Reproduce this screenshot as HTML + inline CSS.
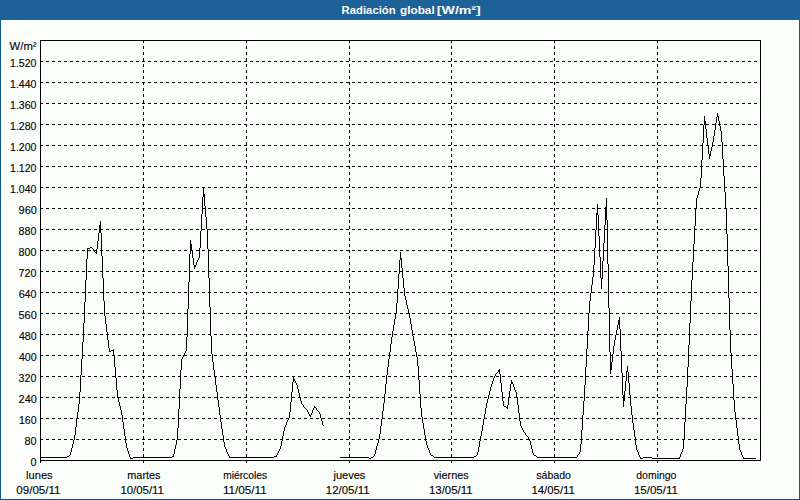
<!DOCTYPE html>
<html><head><meta charset="utf-8"><title>Radiación global</title>
<style>
html,body{margin:0;padding:0;background:#fcfefc;}
body{width:800px;height:500px;overflow:hidden;}
svg{display:block;}
text{font-family:"Liberation Sans",sans-serif;font-size:11px;fill:#000;stroke:#000;stroke-width:0.12px;}
.t{font-weight:bold;fill:#fff;stroke:none;}
</style></head><body>
<svg width="800" height="500" viewBox="0 0 800 500">
<rect x="0" y="0" width="800" height="500" fill="#fcfefc"/>
<g shape-rendering="crispEdges">
<rect x="0" y="0" width="800" height="20" fill="#1d6297"/>
<rect x="0" y="20" width="1" height="480" fill="#10568f"/>
<rect x="799" y="20" width="1" height="480" fill="#10568f"/>
<rect x="0" y="499" width="800" height="1" fill="#10568f"/>
<path d="M143 40h1v3h-1zM143 46h1v3h-1zM143 52h1v3h-1zM143 58h1v4h-1zM143 64h1v3h-1zM143 70h1v3h-1zM143 76h1v3h-1zM143 82h1v3h-1zM143 88h1v3h-1zM143 94h1v3h-1zM143 100h1v4h-1zM143 106h1v3h-1zM143 112h1v3h-1zM143 118h1v3h-1zM143 124h1v3h-1zM143 130h1v3h-1zM143 136h1v3h-1zM143 142h1v4h-1zM143 148h1v3h-1zM143 154h1v3h-1zM143 160h1v3h-1zM143 166h1v3h-1zM143 172h1v3h-1zM143 178h1v3h-1zM143 184h1v4h-1zM143 190h1v3h-1zM143 196h1v3h-1zM143 202h1v3h-1zM143 208h1v3h-1zM143 214h1v3h-1zM143 220h1v3h-1zM143 226h1v4h-1zM143 232h1v3h-1zM143 238h1v3h-1zM143 244h1v3h-1zM143 250h1v3h-1zM143 256h1v3h-1zM143 262h1v3h-1zM143 268h1v4h-1zM143 274h1v3h-1zM143 280h1v3h-1zM143 286h1v3h-1zM143 292h1v3h-1zM143 298h1v3h-1zM143 304h1v3h-1zM143 310h1v4h-1zM143 316h1v3h-1zM143 322h1v3h-1zM143 328h1v3h-1zM143 334h1v3h-1zM143 340h1v3h-1zM143 346h1v3h-1zM143 352h1v4h-1zM143 358h1v3h-1zM143 364h1v3h-1zM143 370h1v3h-1zM143 376h1v3h-1zM143 382h1v3h-1zM143 388h1v3h-1zM143 394h1v4h-1zM143 400h1v3h-1zM143 406h1v3h-1zM143 412h1v3h-1zM143 418h1v3h-1zM143 424h1v3h-1zM143 430h1v3h-1zM143 436h1v4h-1zM143 442h1v3h-1zM143 448h1v3h-1zM143 454h1v3h-1zM143 460h1v3h-1zM246 40h1v3h-1zM246 46h1v3h-1zM246 52h1v3h-1zM246 58h1v4h-1zM246 64h1v3h-1zM246 70h1v3h-1zM246 76h1v3h-1zM246 82h1v3h-1zM246 88h1v3h-1zM246 94h1v3h-1zM246 100h1v4h-1zM246 106h1v3h-1zM246 112h1v3h-1zM246 118h1v3h-1zM246 124h1v3h-1zM246 130h1v3h-1zM246 136h1v3h-1zM246 142h1v4h-1zM246 148h1v3h-1zM246 154h1v3h-1zM246 160h1v3h-1zM246 166h1v3h-1zM246 172h1v3h-1zM246 178h1v3h-1zM246 184h1v4h-1zM246 190h1v3h-1zM246 196h1v3h-1zM246 202h1v3h-1zM246 208h1v3h-1zM246 214h1v3h-1zM246 220h1v3h-1zM246 226h1v4h-1zM246 232h1v3h-1zM246 238h1v3h-1zM246 244h1v3h-1zM246 250h1v3h-1zM246 256h1v3h-1zM246 262h1v3h-1zM246 268h1v4h-1zM246 274h1v3h-1zM246 280h1v3h-1zM246 286h1v3h-1zM246 292h1v3h-1zM246 298h1v3h-1zM246 304h1v3h-1zM246 310h1v4h-1zM246 316h1v3h-1zM246 322h1v3h-1zM246 328h1v3h-1zM246 334h1v3h-1zM246 340h1v3h-1zM246 346h1v3h-1zM246 352h1v4h-1zM246 358h1v3h-1zM246 364h1v3h-1zM246 370h1v3h-1zM246 376h1v3h-1zM246 382h1v3h-1zM246 388h1v3h-1zM246 394h1v4h-1zM246 400h1v3h-1zM246 406h1v3h-1zM246 412h1v3h-1zM246 418h1v3h-1zM246 424h1v3h-1zM246 430h1v3h-1zM246 436h1v4h-1zM246 442h1v3h-1zM246 448h1v3h-1zM246 454h1v3h-1zM246 460h1v3h-1zM349 40h1v3h-1zM349 46h1v3h-1zM349 52h1v3h-1zM349 58h1v3h-1zM349 64h1v3h-1zM349 70h1v3h-1zM349 76h1v3h-1zM349 82h1v3h-1zM349 88h1v3h-1zM349 94h1v3h-1zM349 100h1v3h-1zM349 106h1v3h-1zM349 112h1v3h-1zM349 118h1v3h-1zM349 124h1v3h-1zM349 130h1v3h-1zM349 136h1v3h-1zM349 142h1v3h-1zM349 148h1v3h-1zM349 154h1v3h-1zM349 160h1v3h-1zM349 166h1v3h-1zM349 172h1v3h-1zM349 178h1v3h-1zM349 184h1v3h-1zM349 190h1v3h-1zM349 196h1v3h-1zM349 202h1v3h-1zM349 208h1v3h-1zM349 214h1v3h-1zM349 220h1v3h-1zM349 226h1v3h-1zM349 232h1v3h-1zM349 238h1v3h-1zM349 244h1v3h-1zM349 250h1v3h-1zM349 256h1v3h-1zM349 262h1v3h-1zM349 268h1v3h-1zM349 274h1v3h-1zM349 280h1v3h-1zM349 286h1v3h-1zM349 292h1v3h-1zM349 298h1v3h-1zM349 304h1v3h-1zM349 310h1v3h-1zM349 316h1v3h-1zM349 322h1v3h-1zM349 328h1v3h-1zM349 334h1v3h-1zM349 340h1v3h-1zM349 346h1v3h-1zM349 352h1v3h-1zM349 358h1v3h-1zM349 364h1v3h-1zM349 370h1v3h-1zM349 376h1v3h-1zM349 382h1v3h-1zM349 388h1v3h-1zM349 394h1v3h-1zM349 400h1v3h-1zM349 406h1v3h-1zM349 412h1v3h-1zM349 418h1v3h-1zM349 424h1v3h-1zM349 430h1v3h-1zM349 436h1v3h-1zM349 442h1v3h-1zM349 448h1v3h-1zM349 454h1v3h-1zM349 460h1v3h-1zM451 40h1v3h-1zM451 46h1v3h-1zM451 52h1v3h-1zM451 58h1v3h-1zM451 64h1v3h-1zM451 70h1v3h-1zM451 76h1v3h-1zM451 82h1v3h-1zM451 88h1v3h-1zM451 94h1v3h-1zM451 100h1v3h-1zM451 106h1v3h-1zM451 112h1v3h-1zM451 118h1v3h-1zM451 124h1v3h-1zM451 130h1v3h-1zM451 136h1v3h-1zM451 142h1v3h-1zM451 148h1v3h-1zM451 154h1v3h-1zM451 160h1v3h-1zM451 166h1v3h-1zM451 172h1v3h-1zM451 178h1v3h-1zM451 184h1v3h-1zM451 190h1v3h-1zM451 196h1v3h-1zM451 202h1v3h-1zM451 208h1v3h-1zM451 214h1v3h-1zM451 220h1v3h-1zM451 226h1v3h-1zM451 232h1v3h-1zM451 238h1v3h-1zM451 244h1v3h-1zM451 250h1v3h-1zM451 256h1v3h-1zM451 262h1v3h-1zM451 268h1v3h-1zM451 274h1v3h-1zM451 280h1v3h-1zM451 286h1v3h-1zM451 292h1v3h-1zM451 298h1v3h-1zM451 304h1v3h-1zM451 310h1v3h-1zM451 316h1v3h-1zM451 322h1v3h-1zM451 328h1v3h-1zM451 334h1v3h-1zM451 340h1v3h-1zM451 346h1v3h-1zM451 352h1v3h-1zM451 358h1v3h-1zM451 364h1v3h-1zM451 370h1v3h-1zM451 376h1v3h-1zM451 382h1v3h-1zM451 388h1v3h-1zM451 394h1v3h-1zM451 400h1v3h-1zM451 406h1v3h-1zM451 412h1v3h-1zM451 418h1v3h-1zM451 424h1v3h-1zM451 430h1v3h-1zM451 436h1v3h-1zM451 442h1v3h-1zM451 448h1v3h-1zM451 454h1v3h-1zM451 460h1v3h-1zM554 40h1v3h-1zM554 46h1v3h-1zM554 52h1v3h-1zM554 58h1v3h-1zM554 64h1v3h-1zM554 70h1v3h-1zM554 76h1v3h-1zM554 82h1v3h-1zM554 88h1v3h-1zM554 94h1v3h-1zM554 100h1v3h-1zM554 106h1v3h-1zM554 112h1v3h-1zM554 118h1v3h-1zM554 124h1v3h-1zM554 130h1v3h-1zM554 136h1v3h-1zM554 142h1v3h-1zM554 148h1v3h-1zM554 154h1v3h-1zM554 160h1v3h-1zM554 166h1v3h-1zM554 172h1v3h-1zM554 178h1v3h-1zM554 184h1v3h-1zM554 190h1v3h-1zM554 196h1v3h-1zM554 202h1v3h-1zM554 208h1v3h-1zM554 214h1v3h-1zM554 220h1v3h-1zM554 226h1v3h-1zM554 232h1v3h-1zM554 238h1v3h-1zM554 244h1v3h-1zM554 250h1v3h-1zM554 256h1v3h-1zM554 262h1v3h-1zM554 268h1v3h-1zM554 274h1v3h-1zM554 280h1v3h-1zM554 286h1v3h-1zM554 292h1v3h-1zM554 298h1v3h-1zM554 304h1v3h-1zM554 310h1v3h-1zM554 316h1v3h-1zM554 322h1v3h-1zM554 328h1v3h-1zM554 334h1v3h-1zM554 340h1v3h-1zM554 346h1v3h-1zM554 352h1v3h-1zM554 358h1v3h-1zM554 364h1v3h-1zM554 370h1v3h-1zM554 376h1v3h-1zM554 382h1v3h-1zM554 388h1v3h-1zM554 394h1v3h-1zM554 400h1v3h-1zM554 406h1v3h-1zM554 412h1v3h-1zM554 418h1v3h-1zM554 424h1v3h-1zM554 430h1v3h-1zM554 436h1v3h-1zM554 442h1v3h-1zM554 448h1v3h-1zM554 454h1v3h-1zM554 460h1v3h-1zM657 40h1v3h-1zM657 46h1v3h-1zM657 52h1v3h-1zM657 58h1v3h-1zM657 64h1v3h-1zM657 70h1v3h-1zM657 76h1v3h-1zM657 82h1v3h-1zM657 88h1v3h-1zM657 94h1v3h-1zM657 100h1v3h-1zM657 106h1v3h-1zM657 112h1v3h-1zM657 118h1v3h-1zM657 124h1v3h-1zM657 130h1v3h-1zM657 136h1v3h-1zM657 142h1v3h-1zM657 148h1v3h-1zM657 154h1v3h-1zM657 160h1v3h-1zM657 166h1v3h-1zM657 172h1v3h-1zM657 178h1v3h-1zM657 184h1v3h-1zM657 190h1v3h-1zM657 196h1v3h-1zM657 202h1v3h-1zM657 208h1v3h-1zM657 214h1v3h-1zM657 220h1v3h-1zM657 226h1v3h-1zM657 232h1v3h-1zM657 238h1v3h-1zM657 244h1v3h-1zM657 250h1v3h-1zM657 256h1v3h-1zM657 262h1v3h-1zM657 268h1v3h-1zM657 274h1v3h-1zM657 280h1v3h-1zM657 286h1v3h-1zM657 292h1v3h-1zM657 298h1v3h-1zM657 304h1v3h-1zM657 310h1v3h-1zM657 316h1v3h-1zM657 322h1v3h-1zM657 328h1v3h-1zM657 334h1v3h-1zM657 340h1v3h-1zM657 346h1v3h-1zM657 352h1v3h-1zM657 358h1v3h-1zM657 364h1v3h-1zM657 370h1v3h-1zM657 376h1v3h-1zM657 382h1v3h-1zM657 388h1v3h-1zM657 394h1v3h-1zM657 400h1v3h-1zM657 406h1v3h-1zM657 412h1v3h-1zM657 418h1v3h-1zM657 424h1v3h-1zM657 430h1v3h-1zM657 436h1v3h-1zM657 442h1v3h-1zM657 448h1v3h-1zM657 454h1v3h-1zM657 460h1v3h-1zM40 61h3v1h-3zM46 61h3v1h-3zM52 61h3v1h-3zM58 61h3v1h-3zM64 61h3v1h-3zM70 61h3v1h-3zM76 61h3v1h-3zM82 61h3v1h-3zM88 61h3v1h-3zM94 61h3v1h-3zM100 61h3v1h-3zM106 61h3v1h-3zM112 61h3v1h-3zM118 61h3v1h-3zM124 61h3v1h-3zM130 61h3v1h-3zM136 61h3v1h-3zM142 61h1v1h-1zM144 61h1v1h-1zM148 61h3v1h-3zM154 61h3v1h-3zM160 61h3v1h-3zM166 61h3v1h-3zM172 61h3v1h-3zM178 61h3v1h-3zM184 61h3v1h-3zM190 61h3v1h-3zM196 61h3v1h-3zM202 61h3v1h-3zM208 61h3v1h-3zM214 61h3v1h-3zM220 61h3v1h-3zM226 61h3v1h-3zM232 61h3v1h-3zM238 61h3v1h-3zM244 61h2v1h-2zM250 61h3v1h-3zM256 61h3v1h-3zM262 61h3v1h-3zM268 61h3v1h-3zM274 61h3v1h-3zM280 61h3v1h-3zM286 61h3v1h-3zM292 61h3v1h-3zM298 61h3v1h-3zM304 61h3v1h-3zM310 61h3v1h-3zM316 61h3v1h-3zM322 61h3v1h-3zM328 61h3v1h-3zM334 61h3v1h-3zM340 61h3v1h-3zM346 61h3v1h-3zM352 61h3v1h-3zM358 61h3v1h-3zM364 61h3v1h-3zM370 61h3v1h-3zM376 61h3v1h-3zM382 61h3v1h-3zM388 61h3v1h-3zM394 61h3v1h-3zM400 61h3v1h-3zM406 61h3v1h-3zM412 61h3v1h-3zM418 61h3v1h-3zM424 61h3v1h-3zM430 61h3v1h-3zM436 61h3v1h-3zM442 61h3v1h-3zM448 61h3v1h-3zM454 61h3v1h-3zM460 61h3v1h-3zM466 61h3v1h-3zM472 61h3v1h-3zM478 61h3v1h-3zM484 61h3v1h-3zM490 61h3v1h-3zM496 61h3v1h-3zM502 61h3v1h-3zM508 61h3v1h-3zM514 61h3v1h-3zM520 61h3v1h-3zM526 61h3v1h-3zM532 61h3v1h-3zM538 61h3v1h-3zM544 61h3v1h-3zM550 61h3v1h-3zM556 61h3v1h-3zM562 61h3v1h-3zM568 61h3v1h-3zM574 61h3v1h-3zM580 61h3v1h-3zM586 61h3v1h-3zM592 61h3v1h-3zM598 61h3v1h-3zM604 61h3v1h-3zM610 61h3v1h-3zM616 61h3v1h-3zM622 61h3v1h-3zM628 61h3v1h-3zM634 61h3v1h-3zM640 61h3v1h-3zM646 61h3v1h-3zM652 61h3v1h-3zM658 61h3v1h-3zM664 61h3v1h-3zM670 61h3v1h-3zM676 61h3v1h-3zM682 61h3v1h-3zM688 61h3v1h-3zM694 61h3v1h-3zM700 61h3v1h-3zM706 61h3v1h-3zM712 61h3v1h-3zM718 61h3v1h-3zM724 61h3v1h-3zM730 61h3v1h-3zM736 61h3v1h-3zM742 61h3v1h-3zM748 61h3v1h-3zM754 61h3v1h-3zM760 61h1v1h-1zM40 82h3v1h-3zM46 82h3v1h-3zM52 82h3v1h-3zM58 82h3v1h-3zM64 82h3v1h-3zM70 82h3v1h-3zM76 82h3v1h-3zM82 82h3v1h-3zM88 82h3v1h-3zM94 82h3v1h-3zM100 82h3v1h-3zM106 82h3v1h-3zM112 82h3v1h-3zM118 82h3v1h-3zM124 82h3v1h-3zM130 82h3v1h-3zM136 82h3v1h-3zM142 82h1v1h-1zM144 82h1v1h-1zM148 82h3v1h-3zM154 82h3v1h-3zM160 82h3v1h-3zM166 82h3v1h-3zM172 82h3v1h-3zM178 82h3v1h-3zM184 82h3v1h-3zM190 82h3v1h-3zM196 82h3v1h-3zM202 82h3v1h-3zM208 82h3v1h-3zM214 82h3v1h-3zM220 82h3v1h-3zM226 82h3v1h-3zM232 82h3v1h-3zM238 82h3v1h-3zM244 82h2v1h-2zM250 82h3v1h-3zM256 82h3v1h-3zM262 82h3v1h-3zM268 82h3v1h-3zM274 82h3v1h-3zM280 82h3v1h-3zM286 82h3v1h-3zM292 82h3v1h-3zM298 82h3v1h-3zM304 82h3v1h-3zM310 82h3v1h-3zM316 82h3v1h-3zM322 82h3v1h-3zM328 82h3v1h-3zM334 82h3v1h-3zM340 82h3v1h-3zM346 82h3v1h-3zM352 82h3v1h-3zM358 82h3v1h-3zM364 82h3v1h-3zM370 82h3v1h-3zM376 82h3v1h-3zM382 82h3v1h-3zM388 82h3v1h-3zM394 82h3v1h-3zM400 82h3v1h-3zM406 82h3v1h-3zM412 82h3v1h-3zM418 82h3v1h-3zM424 82h3v1h-3zM430 82h3v1h-3zM436 82h3v1h-3zM442 82h3v1h-3zM448 82h3v1h-3zM454 82h3v1h-3zM460 82h3v1h-3zM466 82h3v1h-3zM472 82h3v1h-3zM478 82h3v1h-3zM484 82h3v1h-3zM490 82h3v1h-3zM496 82h3v1h-3zM502 82h3v1h-3zM508 82h3v1h-3zM514 82h3v1h-3zM520 82h3v1h-3zM526 82h3v1h-3zM532 82h3v1h-3zM538 82h3v1h-3zM544 82h3v1h-3zM550 82h3v1h-3zM556 82h3v1h-3zM562 82h3v1h-3zM568 82h3v1h-3zM574 82h3v1h-3zM580 82h3v1h-3zM586 82h3v1h-3zM592 82h3v1h-3zM598 82h3v1h-3zM604 82h3v1h-3zM610 82h3v1h-3zM616 82h3v1h-3zM622 82h3v1h-3zM628 82h3v1h-3zM634 82h3v1h-3zM640 82h3v1h-3zM646 82h3v1h-3zM652 82h3v1h-3zM658 82h3v1h-3zM664 82h3v1h-3zM670 82h3v1h-3zM676 82h3v1h-3zM682 82h3v1h-3zM688 82h3v1h-3zM694 82h3v1h-3zM700 82h3v1h-3zM706 82h3v1h-3zM712 82h3v1h-3zM718 82h3v1h-3zM724 82h3v1h-3zM730 82h3v1h-3zM736 82h3v1h-3zM742 82h3v1h-3zM748 82h3v1h-3zM754 82h3v1h-3zM760 82h1v1h-1zM40 103h3v1h-3zM46 103h3v1h-3zM52 103h3v1h-3zM58 103h3v1h-3zM64 103h3v1h-3zM70 103h3v1h-3zM76 103h3v1h-3zM82 103h3v1h-3zM88 103h3v1h-3zM94 103h3v1h-3zM100 103h3v1h-3zM106 103h3v1h-3zM112 103h3v1h-3zM118 103h3v1h-3zM124 103h3v1h-3zM130 103h3v1h-3zM136 103h3v1h-3zM142 103h1v1h-1zM144 103h1v1h-1zM148 103h3v1h-3zM154 103h3v1h-3zM160 103h3v1h-3zM166 103h3v1h-3zM172 103h3v1h-3zM178 103h3v1h-3zM184 103h3v1h-3zM190 103h3v1h-3zM196 103h3v1h-3zM202 103h3v1h-3zM208 103h3v1h-3zM214 103h3v1h-3zM220 103h3v1h-3zM226 103h3v1h-3zM232 103h3v1h-3zM238 103h3v1h-3zM244 103h2v1h-2zM250 103h3v1h-3zM256 103h3v1h-3zM262 103h3v1h-3zM268 103h3v1h-3zM274 103h3v1h-3zM280 103h3v1h-3zM286 103h3v1h-3zM292 103h3v1h-3zM298 103h3v1h-3zM304 103h3v1h-3zM310 103h3v1h-3zM316 103h3v1h-3zM322 103h3v1h-3zM328 103h3v1h-3zM334 103h3v1h-3zM340 103h3v1h-3zM346 103h3v1h-3zM352 103h3v1h-3zM358 103h3v1h-3zM364 103h3v1h-3zM370 103h3v1h-3zM376 103h3v1h-3zM382 103h3v1h-3zM388 103h3v1h-3zM394 103h3v1h-3zM400 103h3v1h-3zM406 103h3v1h-3zM412 103h3v1h-3zM418 103h3v1h-3zM424 103h3v1h-3zM430 103h3v1h-3zM436 103h3v1h-3zM442 103h3v1h-3zM448 103h3v1h-3zM454 103h3v1h-3zM460 103h3v1h-3zM466 103h3v1h-3zM472 103h3v1h-3zM478 103h3v1h-3zM484 103h3v1h-3zM490 103h3v1h-3zM496 103h3v1h-3zM502 103h3v1h-3zM508 103h3v1h-3zM514 103h3v1h-3zM520 103h3v1h-3zM526 103h3v1h-3zM532 103h3v1h-3zM538 103h3v1h-3zM544 103h3v1h-3zM550 103h3v1h-3zM556 103h3v1h-3zM562 103h3v1h-3zM568 103h3v1h-3zM574 103h3v1h-3zM580 103h3v1h-3zM586 103h3v1h-3zM592 103h3v1h-3zM598 103h3v1h-3zM604 103h3v1h-3zM610 103h3v1h-3zM616 103h3v1h-3zM622 103h3v1h-3zM628 103h3v1h-3zM634 103h3v1h-3zM640 103h3v1h-3zM646 103h3v1h-3zM652 103h3v1h-3zM658 103h3v1h-3zM664 103h3v1h-3zM670 103h3v1h-3zM676 103h3v1h-3zM682 103h3v1h-3zM688 103h3v1h-3zM694 103h3v1h-3zM700 103h3v1h-3zM706 103h3v1h-3zM712 103h3v1h-3zM718 103h3v1h-3zM724 103h3v1h-3zM730 103h3v1h-3zM736 103h3v1h-3zM742 103h3v1h-3zM748 103h3v1h-3zM754 103h3v1h-3zM760 103h1v1h-1zM40 124h3v1h-3zM46 124h3v1h-3zM52 124h3v1h-3zM58 124h3v1h-3zM64 124h3v1h-3zM70 124h3v1h-3zM76 124h3v1h-3zM82 124h3v1h-3zM88 124h3v1h-3zM94 124h3v1h-3zM100 124h3v1h-3zM106 124h3v1h-3zM112 124h3v1h-3zM118 124h3v1h-3zM124 124h3v1h-3zM130 124h3v1h-3zM136 124h3v1h-3zM142 124h1v1h-1zM144 124h1v1h-1zM148 124h3v1h-3zM154 124h3v1h-3zM160 124h3v1h-3zM166 124h3v1h-3zM172 124h3v1h-3zM178 124h3v1h-3zM184 124h3v1h-3zM190 124h3v1h-3zM196 124h3v1h-3zM202 124h3v1h-3zM208 124h3v1h-3zM214 124h3v1h-3zM220 124h3v1h-3zM226 124h3v1h-3zM232 124h3v1h-3zM238 124h3v1h-3zM244 124h2v1h-2zM250 124h3v1h-3zM256 124h3v1h-3zM262 124h3v1h-3zM268 124h3v1h-3zM274 124h3v1h-3zM280 124h3v1h-3zM286 124h3v1h-3zM292 124h3v1h-3zM298 124h3v1h-3zM304 124h3v1h-3zM310 124h3v1h-3zM316 124h3v1h-3zM322 124h3v1h-3zM328 124h3v1h-3zM334 124h3v1h-3zM340 124h3v1h-3zM346 124h3v1h-3zM352 124h3v1h-3zM358 124h3v1h-3zM364 124h3v1h-3zM370 124h3v1h-3zM376 124h3v1h-3zM382 124h3v1h-3zM388 124h3v1h-3zM394 124h3v1h-3zM400 124h3v1h-3zM406 124h3v1h-3zM412 124h3v1h-3zM418 124h3v1h-3zM424 124h3v1h-3zM430 124h3v1h-3zM436 124h3v1h-3zM442 124h3v1h-3zM448 124h3v1h-3zM454 124h3v1h-3zM460 124h3v1h-3zM466 124h3v1h-3zM472 124h3v1h-3zM478 124h3v1h-3zM484 124h3v1h-3zM490 124h3v1h-3zM496 124h3v1h-3zM502 124h3v1h-3zM508 124h3v1h-3zM514 124h3v1h-3zM520 124h3v1h-3zM526 124h3v1h-3zM532 124h3v1h-3zM538 124h3v1h-3zM544 124h3v1h-3zM550 124h3v1h-3zM556 124h3v1h-3zM562 124h3v1h-3zM568 124h3v1h-3zM574 124h3v1h-3zM580 124h3v1h-3zM586 124h3v1h-3zM592 124h3v1h-3zM598 124h3v1h-3zM604 124h3v1h-3zM610 124h3v1h-3zM616 124h3v1h-3zM622 124h3v1h-3zM628 124h3v1h-3zM634 124h3v1h-3zM640 124h3v1h-3zM646 124h3v1h-3zM652 124h3v1h-3zM658 124h3v1h-3zM664 124h3v1h-3zM670 124h3v1h-3zM676 124h3v1h-3zM682 124h3v1h-3zM688 124h3v1h-3zM694 124h3v1h-3zM700 124h3v1h-3zM706 124h3v1h-3zM712 124h3v1h-3zM718 124h3v1h-3zM724 124h3v1h-3zM730 124h3v1h-3zM736 124h3v1h-3zM742 124h3v1h-3zM748 124h3v1h-3zM754 124h3v1h-3zM760 124h1v1h-1zM40 145h3v1h-3zM46 145h3v1h-3zM52 145h3v1h-3zM58 145h3v1h-3zM64 145h3v1h-3zM70 145h3v1h-3zM76 145h3v1h-3zM82 145h3v1h-3zM88 145h3v1h-3zM94 145h3v1h-3zM100 145h3v1h-3zM106 145h3v1h-3zM112 145h3v1h-3zM118 145h3v1h-3zM124 145h3v1h-3zM130 145h3v1h-3zM136 145h3v1h-3zM142 145h1v1h-1zM144 145h1v1h-1zM148 145h3v1h-3zM154 145h3v1h-3zM160 145h3v1h-3zM166 145h3v1h-3zM172 145h3v1h-3zM178 145h3v1h-3zM184 145h3v1h-3zM190 145h3v1h-3zM196 145h3v1h-3zM202 145h3v1h-3zM208 145h3v1h-3zM214 145h3v1h-3zM220 145h3v1h-3zM226 145h3v1h-3zM232 145h3v1h-3zM238 145h3v1h-3zM244 145h2v1h-2zM250 145h3v1h-3zM256 145h3v1h-3zM262 145h3v1h-3zM268 145h3v1h-3zM274 145h3v1h-3zM280 145h3v1h-3zM286 145h3v1h-3zM292 145h3v1h-3zM298 145h3v1h-3zM304 145h3v1h-3zM310 145h3v1h-3zM316 145h3v1h-3zM322 145h3v1h-3zM328 145h3v1h-3zM334 145h3v1h-3zM340 145h3v1h-3zM346 145h3v1h-3zM352 145h3v1h-3zM358 145h3v1h-3zM364 145h3v1h-3zM370 145h3v1h-3zM376 145h3v1h-3zM382 145h3v1h-3zM388 145h3v1h-3zM394 145h3v1h-3zM400 145h3v1h-3zM406 145h3v1h-3zM412 145h3v1h-3zM418 145h3v1h-3zM424 145h3v1h-3zM430 145h3v1h-3zM436 145h3v1h-3zM442 145h3v1h-3zM448 145h3v1h-3zM454 145h3v1h-3zM460 145h3v1h-3zM466 145h3v1h-3zM472 145h3v1h-3zM478 145h3v1h-3zM484 145h3v1h-3zM490 145h3v1h-3zM496 145h3v1h-3zM502 145h3v1h-3zM508 145h3v1h-3zM514 145h3v1h-3zM520 145h3v1h-3zM526 145h3v1h-3zM532 145h3v1h-3zM538 145h3v1h-3zM544 145h3v1h-3zM550 145h3v1h-3zM556 145h3v1h-3zM562 145h3v1h-3zM568 145h3v1h-3zM574 145h3v1h-3zM580 145h3v1h-3zM586 145h3v1h-3zM592 145h3v1h-3zM598 145h3v1h-3zM604 145h3v1h-3zM610 145h3v1h-3zM616 145h3v1h-3zM622 145h3v1h-3zM628 145h3v1h-3zM634 145h3v1h-3zM640 145h3v1h-3zM646 145h3v1h-3zM652 145h3v1h-3zM658 145h3v1h-3zM664 145h3v1h-3zM670 145h3v1h-3zM676 145h3v1h-3zM682 145h3v1h-3zM688 145h3v1h-3zM694 145h3v1h-3zM700 145h3v1h-3zM706 145h3v1h-3zM712 145h3v1h-3zM718 145h3v1h-3zM724 145h3v1h-3zM730 145h3v1h-3zM736 145h3v1h-3zM742 145h3v1h-3zM748 145h3v1h-3zM754 145h3v1h-3zM760 145h1v1h-1zM40 166h3v1h-3zM46 166h3v1h-3zM52 166h3v1h-3zM58 166h3v1h-3zM64 166h3v1h-3zM70 166h3v1h-3zM76 166h3v1h-3zM82 166h3v1h-3zM88 166h3v1h-3zM94 166h3v1h-3zM100 166h3v1h-3zM106 166h3v1h-3zM112 166h3v1h-3zM118 166h3v1h-3zM124 166h3v1h-3zM130 166h3v1h-3zM136 166h3v1h-3zM142 166h1v1h-1zM144 166h1v1h-1zM148 166h3v1h-3zM154 166h3v1h-3zM160 166h3v1h-3zM166 166h3v1h-3zM172 166h3v1h-3zM178 166h3v1h-3zM184 166h3v1h-3zM190 166h3v1h-3zM196 166h3v1h-3zM202 166h3v1h-3zM208 166h3v1h-3zM214 166h3v1h-3zM220 166h3v1h-3zM226 166h3v1h-3zM232 166h3v1h-3zM238 166h3v1h-3zM244 166h2v1h-2zM250 166h3v1h-3zM256 166h3v1h-3zM262 166h3v1h-3zM268 166h3v1h-3zM274 166h3v1h-3zM280 166h3v1h-3zM286 166h3v1h-3zM292 166h3v1h-3zM298 166h3v1h-3zM304 166h3v1h-3zM310 166h3v1h-3zM316 166h3v1h-3zM322 166h3v1h-3zM328 166h3v1h-3zM334 166h3v1h-3zM340 166h3v1h-3zM346 166h3v1h-3zM352 166h3v1h-3zM358 166h3v1h-3zM364 166h3v1h-3zM370 166h3v1h-3zM376 166h3v1h-3zM382 166h3v1h-3zM388 166h3v1h-3zM394 166h3v1h-3zM400 166h3v1h-3zM406 166h3v1h-3zM412 166h3v1h-3zM418 166h3v1h-3zM424 166h3v1h-3zM430 166h3v1h-3zM436 166h3v1h-3zM442 166h3v1h-3zM448 166h3v1h-3zM454 166h3v1h-3zM460 166h3v1h-3zM466 166h3v1h-3zM472 166h3v1h-3zM478 166h3v1h-3zM484 166h3v1h-3zM490 166h3v1h-3zM496 166h3v1h-3zM502 166h3v1h-3zM508 166h3v1h-3zM514 166h3v1h-3zM520 166h3v1h-3zM526 166h3v1h-3zM532 166h3v1h-3zM538 166h3v1h-3zM544 166h3v1h-3zM550 166h3v1h-3zM556 166h3v1h-3zM562 166h3v1h-3zM568 166h3v1h-3zM574 166h3v1h-3zM580 166h3v1h-3zM586 166h3v1h-3zM592 166h3v1h-3zM598 166h3v1h-3zM604 166h3v1h-3zM610 166h3v1h-3zM616 166h3v1h-3zM622 166h3v1h-3zM628 166h3v1h-3zM634 166h3v1h-3zM640 166h3v1h-3zM646 166h3v1h-3zM652 166h3v1h-3zM658 166h3v1h-3zM664 166h3v1h-3zM670 166h3v1h-3zM676 166h3v1h-3zM682 166h3v1h-3zM688 166h3v1h-3zM694 166h3v1h-3zM700 166h3v1h-3zM706 166h3v1h-3zM712 166h3v1h-3zM718 166h3v1h-3zM724 166h3v1h-3zM730 166h3v1h-3zM736 166h3v1h-3zM742 166h3v1h-3zM748 166h3v1h-3zM754 166h3v1h-3zM760 166h1v1h-1zM40 187h3v1h-3zM46 187h3v1h-3zM52 187h3v1h-3zM58 187h3v1h-3zM64 187h3v1h-3zM70 187h3v1h-3zM76 187h3v1h-3zM82 187h3v1h-3zM88 187h3v1h-3zM94 187h3v1h-3zM100 187h3v1h-3zM106 187h3v1h-3zM112 187h3v1h-3zM118 187h3v1h-3zM124 187h3v1h-3zM130 187h3v1h-3zM136 187h3v1h-3zM142 187h1v1h-1zM144 187h1v1h-1zM148 187h3v1h-3zM154 187h3v1h-3zM160 187h3v1h-3zM166 187h3v1h-3zM172 187h3v1h-3zM178 187h3v1h-3zM184 187h3v1h-3zM190 187h3v1h-3zM196 187h3v1h-3zM202 187h3v1h-3zM208 187h3v1h-3zM214 187h3v1h-3zM220 187h3v1h-3zM226 187h3v1h-3zM232 187h3v1h-3zM238 187h3v1h-3zM244 187h2v1h-2zM250 187h3v1h-3zM256 187h3v1h-3zM262 187h3v1h-3zM268 187h3v1h-3zM274 187h3v1h-3zM280 187h3v1h-3zM286 187h3v1h-3zM292 187h3v1h-3zM298 187h3v1h-3zM304 187h3v1h-3zM310 187h3v1h-3zM316 187h3v1h-3zM322 187h3v1h-3zM328 187h3v1h-3zM334 187h3v1h-3zM340 187h3v1h-3zM346 187h3v1h-3zM352 187h3v1h-3zM358 187h3v1h-3zM364 187h3v1h-3zM370 187h3v1h-3zM376 187h3v1h-3zM382 187h3v1h-3zM388 187h3v1h-3zM394 187h3v1h-3zM400 187h3v1h-3zM406 187h3v1h-3zM412 187h3v1h-3zM418 187h3v1h-3zM424 187h3v1h-3zM430 187h3v1h-3zM436 187h3v1h-3zM442 187h3v1h-3zM448 187h3v1h-3zM454 187h3v1h-3zM460 187h3v1h-3zM466 187h3v1h-3zM472 187h3v1h-3zM478 187h3v1h-3zM484 187h3v1h-3zM490 187h3v1h-3zM496 187h3v1h-3zM502 187h3v1h-3zM508 187h3v1h-3zM514 187h3v1h-3zM520 187h3v1h-3zM526 187h3v1h-3zM532 187h3v1h-3zM538 187h3v1h-3zM544 187h3v1h-3zM550 187h3v1h-3zM556 187h3v1h-3zM562 187h3v1h-3zM568 187h3v1h-3zM574 187h3v1h-3zM580 187h3v1h-3zM586 187h3v1h-3zM592 187h3v1h-3zM598 187h3v1h-3zM604 187h3v1h-3zM610 187h3v1h-3zM616 187h3v1h-3zM622 187h3v1h-3zM628 187h3v1h-3zM634 187h3v1h-3zM640 187h3v1h-3zM646 187h3v1h-3zM652 187h3v1h-3zM658 187h3v1h-3zM664 187h3v1h-3zM670 187h3v1h-3zM676 187h3v1h-3zM682 187h3v1h-3zM688 187h3v1h-3zM694 187h3v1h-3zM700 187h3v1h-3zM706 187h3v1h-3zM712 187h3v1h-3zM718 187h3v1h-3zM724 187h3v1h-3zM730 187h3v1h-3zM736 187h3v1h-3zM742 187h3v1h-3zM748 187h3v1h-3zM754 187h3v1h-3zM760 187h1v1h-1zM40 208h3v1h-3zM46 208h3v1h-3zM52 208h3v1h-3zM58 208h3v1h-3zM64 208h3v1h-3zM70 208h3v1h-3zM76 208h3v1h-3zM82 208h3v1h-3zM88 208h3v1h-3zM94 208h3v1h-3zM100 208h3v1h-3zM106 208h3v1h-3zM112 208h3v1h-3zM118 208h3v1h-3zM124 208h3v1h-3zM130 208h3v1h-3zM136 208h3v1h-3zM142 208h1v1h-1zM144 208h1v1h-1zM148 208h3v1h-3zM154 208h3v1h-3zM160 208h3v1h-3zM166 208h3v1h-3zM172 208h3v1h-3zM178 208h3v1h-3zM184 208h3v1h-3zM190 208h3v1h-3zM196 208h3v1h-3zM202 208h3v1h-3zM208 208h3v1h-3zM214 208h3v1h-3zM220 208h3v1h-3zM226 208h3v1h-3zM232 208h3v1h-3zM238 208h3v1h-3zM244 208h2v1h-2zM250 208h3v1h-3zM256 208h3v1h-3zM262 208h3v1h-3zM268 208h3v1h-3zM274 208h3v1h-3zM280 208h3v1h-3zM286 208h3v1h-3zM292 208h3v1h-3zM298 208h3v1h-3zM304 208h3v1h-3zM310 208h3v1h-3zM316 208h3v1h-3zM322 208h3v1h-3zM328 208h3v1h-3zM334 208h3v1h-3zM340 208h3v1h-3zM346 208h3v1h-3zM352 208h3v1h-3zM358 208h3v1h-3zM364 208h3v1h-3zM370 208h3v1h-3zM376 208h3v1h-3zM382 208h3v1h-3zM388 208h3v1h-3zM394 208h3v1h-3zM400 208h3v1h-3zM406 208h3v1h-3zM412 208h3v1h-3zM418 208h3v1h-3zM424 208h3v1h-3zM430 208h3v1h-3zM436 208h3v1h-3zM442 208h3v1h-3zM448 208h3v1h-3zM454 208h3v1h-3zM460 208h3v1h-3zM466 208h3v1h-3zM472 208h3v1h-3zM478 208h3v1h-3zM484 208h3v1h-3zM490 208h3v1h-3zM496 208h3v1h-3zM502 208h3v1h-3zM508 208h3v1h-3zM514 208h3v1h-3zM520 208h3v1h-3zM526 208h3v1h-3zM532 208h3v1h-3zM538 208h3v1h-3zM544 208h3v1h-3zM550 208h3v1h-3zM556 208h3v1h-3zM562 208h3v1h-3zM568 208h3v1h-3zM574 208h3v1h-3zM580 208h3v1h-3zM586 208h3v1h-3zM592 208h3v1h-3zM598 208h3v1h-3zM604 208h3v1h-3zM610 208h3v1h-3zM616 208h3v1h-3zM622 208h3v1h-3zM628 208h3v1h-3zM634 208h3v1h-3zM640 208h3v1h-3zM646 208h3v1h-3zM652 208h3v1h-3zM658 208h3v1h-3zM664 208h3v1h-3zM670 208h3v1h-3zM676 208h3v1h-3zM682 208h3v1h-3zM688 208h3v1h-3zM694 208h3v1h-3zM700 208h3v1h-3zM706 208h3v1h-3zM712 208h3v1h-3zM718 208h3v1h-3zM724 208h3v1h-3zM730 208h3v1h-3zM736 208h3v1h-3zM742 208h3v1h-3zM748 208h3v1h-3zM754 208h3v1h-3zM760 208h1v1h-1zM40 229h3v1h-3zM46 229h3v1h-3zM52 229h3v1h-3zM58 229h3v1h-3zM64 229h3v1h-3zM70 229h3v1h-3zM76 229h3v1h-3zM82 229h3v1h-3zM88 229h3v1h-3zM94 229h3v1h-3zM100 229h3v1h-3zM106 229h3v1h-3zM112 229h3v1h-3zM118 229h3v1h-3zM124 229h3v1h-3zM130 229h3v1h-3zM136 229h3v1h-3zM142 229h1v1h-1zM144 229h1v1h-1zM148 229h3v1h-3zM154 229h3v1h-3zM160 229h3v1h-3zM166 229h3v1h-3zM172 229h3v1h-3zM178 229h3v1h-3zM184 229h3v1h-3zM190 229h3v1h-3zM196 229h3v1h-3zM202 229h3v1h-3zM208 229h3v1h-3zM214 229h3v1h-3zM220 229h3v1h-3zM226 229h3v1h-3zM232 229h3v1h-3zM238 229h3v1h-3zM244 229h2v1h-2zM250 229h3v1h-3zM256 229h3v1h-3zM262 229h3v1h-3zM268 229h3v1h-3zM274 229h3v1h-3zM280 229h3v1h-3zM286 229h3v1h-3zM292 229h3v1h-3zM298 229h3v1h-3zM304 229h3v1h-3zM310 229h3v1h-3zM316 229h3v1h-3zM322 229h3v1h-3zM328 229h3v1h-3zM334 229h3v1h-3zM340 229h3v1h-3zM346 229h3v1h-3zM352 229h3v1h-3zM358 229h3v1h-3zM364 229h3v1h-3zM370 229h3v1h-3zM376 229h3v1h-3zM382 229h3v1h-3zM388 229h3v1h-3zM394 229h3v1h-3zM400 229h3v1h-3zM406 229h3v1h-3zM412 229h3v1h-3zM418 229h3v1h-3zM424 229h3v1h-3zM430 229h3v1h-3zM436 229h3v1h-3zM442 229h3v1h-3zM448 229h3v1h-3zM454 229h3v1h-3zM460 229h3v1h-3zM466 229h3v1h-3zM472 229h3v1h-3zM478 229h3v1h-3zM484 229h3v1h-3zM490 229h3v1h-3zM496 229h3v1h-3zM502 229h3v1h-3zM508 229h3v1h-3zM514 229h3v1h-3zM520 229h3v1h-3zM526 229h3v1h-3zM532 229h3v1h-3zM538 229h3v1h-3zM544 229h3v1h-3zM550 229h3v1h-3zM556 229h3v1h-3zM562 229h3v1h-3zM568 229h3v1h-3zM574 229h3v1h-3zM580 229h3v1h-3zM586 229h3v1h-3zM592 229h3v1h-3zM598 229h3v1h-3zM604 229h3v1h-3zM610 229h3v1h-3zM616 229h3v1h-3zM622 229h3v1h-3zM628 229h3v1h-3zM634 229h3v1h-3zM640 229h3v1h-3zM646 229h3v1h-3zM652 229h3v1h-3zM658 229h3v1h-3zM664 229h3v1h-3zM670 229h3v1h-3zM676 229h3v1h-3zM682 229h3v1h-3zM688 229h3v1h-3zM694 229h3v1h-3zM700 229h3v1h-3zM706 229h3v1h-3zM712 229h3v1h-3zM718 229h3v1h-3zM724 229h3v1h-3zM730 229h3v1h-3zM736 229h3v1h-3zM742 229h3v1h-3zM748 229h3v1h-3zM754 229h3v1h-3zM760 229h1v1h-1zM40 250h3v1h-3zM46 250h3v1h-3zM52 250h3v1h-3zM58 250h3v1h-3zM64 250h3v1h-3zM70 250h3v1h-3zM76 250h3v1h-3zM82 250h3v1h-3zM88 250h3v1h-3zM94 250h3v1h-3zM100 250h3v1h-3zM106 250h3v1h-3zM112 250h3v1h-3zM118 250h3v1h-3zM124 250h3v1h-3zM130 250h3v1h-3zM136 250h3v1h-3zM142 250h1v1h-1zM144 250h1v1h-1zM148 250h3v1h-3zM154 250h3v1h-3zM160 250h3v1h-3zM166 250h3v1h-3zM172 250h3v1h-3zM178 250h3v1h-3zM184 250h3v1h-3zM190 250h3v1h-3zM196 250h3v1h-3zM202 250h3v1h-3zM208 250h3v1h-3zM214 250h3v1h-3zM220 250h3v1h-3zM226 250h3v1h-3zM232 250h3v1h-3zM238 250h3v1h-3zM244 250h2v1h-2zM250 250h3v1h-3zM256 250h3v1h-3zM262 250h3v1h-3zM268 250h3v1h-3zM274 250h3v1h-3zM280 250h3v1h-3zM286 250h3v1h-3zM292 250h3v1h-3zM298 250h3v1h-3zM304 250h3v1h-3zM310 250h3v1h-3zM316 250h3v1h-3zM322 250h3v1h-3zM328 250h3v1h-3zM334 250h3v1h-3zM340 250h3v1h-3zM346 250h3v1h-3zM352 250h3v1h-3zM358 250h3v1h-3zM364 250h3v1h-3zM370 250h3v1h-3zM376 250h3v1h-3zM382 250h3v1h-3zM388 250h3v1h-3zM394 250h3v1h-3zM400 250h3v1h-3zM406 250h3v1h-3zM412 250h3v1h-3zM418 250h3v1h-3zM424 250h3v1h-3zM430 250h3v1h-3zM436 250h3v1h-3zM442 250h3v1h-3zM448 250h3v1h-3zM454 250h3v1h-3zM460 250h3v1h-3zM466 250h3v1h-3zM472 250h3v1h-3zM478 250h3v1h-3zM484 250h3v1h-3zM490 250h3v1h-3zM496 250h3v1h-3zM502 250h3v1h-3zM508 250h3v1h-3zM514 250h3v1h-3zM520 250h3v1h-3zM526 250h3v1h-3zM532 250h3v1h-3zM538 250h3v1h-3zM544 250h3v1h-3zM550 250h3v1h-3zM556 250h3v1h-3zM562 250h3v1h-3zM568 250h3v1h-3zM574 250h3v1h-3zM580 250h3v1h-3zM586 250h3v1h-3zM592 250h3v1h-3zM598 250h3v1h-3zM604 250h3v1h-3zM610 250h3v1h-3zM616 250h3v1h-3zM622 250h3v1h-3zM628 250h3v1h-3zM634 250h3v1h-3zM640 250h3v1h-3zM646 250h3v1h-3zM652 250h3v1h-3zM658 250h3v1h-3zM664 250h3v1h-3zM670 250h3v1h-3zM676 250h3v1h-3zM682 250h3v1h-3zM688 250h3v1h-3zM694 250h3v1h-3zM700 250h3v1h-3zM706 250h3v1h-3zM712 250h3v1h-3zM718 250h3v1h-3zM724 250h3v1h-3zM730 250h3v1h-3zM736 250h3v1h-3zM742 250h3v1h-3zM748 250h3v1h-3zM754 250h3v1h-3zM760 250h1v1h-1zM40 271h3v1h-3zM46 271h3v1h-3zM52 271h3v1h-3zM58 271h3v1h-3zM64 271h3v1h-3zM70 271h3v1h-3zM76 271h3v1h-3zM82 271h3v1h-3zM88 271h3v1h-3zM94 271h3v1h-3zM100 271h3v1h-3zM106 271h3v1h-3zM112 271h3v1h-3zM118 271h3v1h-3zM124 271h3v1h-3zM130 271h3v1h-3zM136 271h3v1h-3zM142 271h1v1h-1zM144 271h1v1h-1zM148 271h3v1h-3zM154 271h3v1h-3zM160 271h3v1h-3zM166 271h3v1h-3zM172 271h3v1h-3zM178 271h3v1h-3zM184 271h3v1h-3zM190 271h3v1h-3zM196 271h3v1h-3zM202 271h3v1h-3zM208 271h3v1h-3zM214 271h3v1h-3zM220 271h3v1h-3zM226 271h3v1h-3zM232 271h3v1h-3zM238 271h3v1h-3zM244 271h2v1h-2zM250 271h3v1h-3zM256 271h3v1h-3zM262 271h3v1h-3zM268 271h3v1h-3zM274 271h3v1h-3zM280 271h3v1h-3zM286 271h3v1h-3zM292 271h3v1h-3zM298 271h3v1h-3zM304 271h3v1h-3zM310 271h3v1h-3zM316 271h3v1h-3zM322 271h3v1h-3zM328 271h3v1h-3zM334 271h3v1h-3zM340 271h3v1h-3zM346 271h3v1h-3zM352 271h3v1h-3zM358 271h3v1h-3zM364 271h3v1h-3zM370 271h3v1h-3zM376 271h3v1h-3zM382 271h3v1h-3zM388 271h3v1h-3zM394 271h3v1h-3zM400 271h3v1h-3zM406 271h3v1h-3zM412 271h3v1h-3zM418 271h3v1h-3zM424 271h3v1h-3zM430 271h3v1h-3zM436 271h3v1h-3zM442 271h3v1h-3zM448 271h3v1h-3zM454 271h3v1h-3zM460 271h3v1h-3zM466 271h3v1h-3zM472 271h3v1h-3zM478 271h3v1h-3zM484 271h3v1h-3zM490 271h3v1h-3zM496 271h3v1h-3zM502 271h3v1h-3zM508 271h3v1h-3zM514 271h3v1h-3zM520 271h3v1h-3zM526 271h3v1h-3zM532 271h3v1h-3zM538 271h3v1h-3zM544 271h3v1h-3zM550 271h3v1h-3zM556 271h3v1h-3zM562 271h3v1h-3zM568 271h3v1h-3zM574 271h3v1h-3zM580 271h3v1h-3zM586 271h3v1h-3zM592 271h3v1h-3zM598 271h3v1h-3zM604 271h3v1h-3zM610 271h3v1h-3zM616 271h3v1h-3zM622 271h3v1h-3zM628 271h3v1h-3zM634 271h3v1h-3zM640 271h3v1h-3zM646 271h3v1h-3zM652 271h3v1h-3zM658 271h3v1h-3zM664 271h3v1h-3zM670 271h3v1h-3zM676 271h3v1h-3zM682 271h3v1h-3zM688 271h3v1h-3zM694 271h3v1h-3zM700 271h3v1h-3zM706 271h3v1h-3zM712 271h3v1h-3zM718 271h3v1h-3zM724 271h3v1h-3zM730 271h3v1h-3zM736 271h3v1h-3zM742 271h3v1h-3zM748 271h3v1h-3zM754 271h3v1h-3zM760 271h1v1h-1zM40 292h3v1h-3zM46 292h3v1h-3zM52 292h3v1h-3zM58 292h3v1h-3zM64 292h3v1h-3zM70 292h3v1h-3zM76 292h3v1h-3zM82 292h3v1h-3zM88 292h3v1h-3zM94 292h3v1h-3zM100 292h3v1h-3zM106 292h3v1h-3zM112 292h3v1h-3zM118 292h3v1h-3zM124 292h3v1h-3zM130 292h3v1h-3zM136 292h3v1h-3zM142 292h1v1h-1zM144 292h1v1h-1zM148 292h3v1h-3zM154 292h3v1h-3zM160 292h3v1h-3zM166 292h3v1h-3zM172 292h3v1h-3zM178 292h3v1h-3zM184 292h3v1h-3zM190 292h3v1h-3zM196 292h3v1h-3zM202 292h3v1h-3zM208 292h3v1h-3zM214 292h3v1h-3zM220 292h3v1h-3zM226 292h3v1h-3zM232 292h3v1h-3zM238 292h3v1h-3zM244 292h2v1h-2zM250 292h3v1h-3zM256 292h3v1h-3zM262 292h3v1h-3zM268 292h3v1h-3zM274 292h3v1h-3zM280 292h3v1h-3zM286 292h3v1h-3zM292 292h3v1h-3zM298 292h3v1h-3zM304 292h3v1h-3zM310 292h3v1h-3zM316 292h3v1h-3zM322 292h3v1h-3zM328 292h3v1h-3zM334 292h3v1h-3zM340 292h3v1h-3zM346 292h3v1h-3zM352 292h3v1h-3zM358 292h3v1h-3zM364 292h3v1h-3zM370 292h3v1h-3zM376 292h3v1h-3zM382 292h3v1h-3zM388 292h3v1h-3zM394 292h3v1h-3zM400 292h3v1h-3zM406 292h3v1h-3zM412 292h3v1h-3zM418 292h3v1h-3zM424 292h3v1h-3zM430 292h3v1h-3zM436 292h3v1h-3zM442 292h3v1h-3zM448 292h3v1h-3zM454 292h3v1h-3zM460 292h3v1h-3zM466 292h3v1h-3zM472 292h3v1h-3zM478 292h3v1h-3zM484 292h3v1h-3zM490 292h3v1h-3zM496 292h3v1h-3zM502 292h3v1h-3zM508 292h3v1h-3zM514 292h3v1h-3zM520 292h3v1h-3zM526 292h3v1h-3zM532 292h3v1h-3zM538 292h3v1h-3zM544 292h3v1h-3zM550 292h3v1h-3zM556 292h3v1h-3zM562 292h3v1h-3zM568 292h3v1h-3zM574 292h3v1h-3zM580 292h3v1h-3zM586 292h3v1h-3zM592 292h3v1h-3zM598 292h3v1h-3zM604 292h3v1h-3zM610 292h3v1h-3zM616 292h3v1h-3zM622 292h3v1h-3zM628 292h3v1h-3zM634 292h3v1h-3zM640 292h3v1h-3zM646 292h3v1h-3zM652 292h3v1h-3zM658 292h3v1h-3zM664 292h3v1h-3zM670 292h3v1h-3zM676 292h3v1h-3zM682 292h3v1h-3zM688 292h3v1h-3zM694 292h3v1h-3zM700 292h3v1h-3zM706 292h3v1h-3zM712 292h3v1h-3zM718 292h3v1h-3zM724 292h3v1h-3zM730 292h3v1h-3zM736 292h3v1h-3zM742 292h3v1h-3zM748 292h3v1h-3zM754 292h3v1h-3zM760 292h1v1h-1zM40 313h3v1h-3zM46 313h3v1h-3zM52 313h3v1h-3zM58 313h3v1h-3zM64 313h3v1h-3zM70 313h3v1h-3zM76 313h3v1h-3zM82 313h3v1h-3zM88 313h3v1h-3zM94 313h3v1h-3zM100 313h3v1h-3zM106 313h3v1h-3zM112 313h3v1h-3zM118 313h3v1h-3zM124 313h3v1h-3zM130 313h3v1h-3zM136 313h3v1h-3zM142 313h1v1h-1zM144 313h1v1h-1zM148 313h3v1h-3zM154 313h3v1h-3zM160 313h3v1h-3zM166 313h3v1h-3zM172 313h3v1h-3zM178 313h3v1h-3zM184 313h3v1h-3zM190 313h3v1h-3zM196 313h3v1h-3zM202 313h3v1h-3zM208 313h3v1h-3zM214 313h3v1h-3zM220 313h3v1h-3zM226 313h3v1h-3zM232 313h3v1h-3zM238 313h3v1h-3zM244 313h2v1h-2zM250 313h3v1h-3zM256 313h3v1h-3zM262 313h3v1h-3zM268 313h3v1h-3zM274 313h3v1h-3zM280 313h3v1h-3zM286 313h3v1h-3zM292 313h3v1h-3zM298 313h3v1h-3zM304 313h3v1h-3zM310 313h3v1h-3zM316 313h3v1h-3zM322 313h3v1h-3zM328 313h3v1h-3zM334 313h3v1h-3zM340 313h3v1h-3zM346 313h3v1h-3zM352 313h3v1h-3zM358 313h3v1h-3zM364 313h3v1h-3zM370 313h3v1h-3zM376 313h3v1h-3zM382 313h3v1h-3zM388 313h3v1h-3zM394 313h3v1h-3zM400 313h3v1h-3zM406 313h3v1h-3zM412 313h3v1h-3zM418 313h3v1h-3zM424 313h3v1h-3zM430 313h3v1h-3zM436 313h3v1h-3zM442 313h3v1h-3zM448 313h3v1h-3zM454 313h3v1h-3zM460 313h3v1h-3zM466 313h3v1h-3zM472 313h3v1h-3zM478 313h3v1h-3zM484 313h3v1h-3zM490 313h3v1h-3zM496 313h3v1h-3zM502 313h3v1h-3zM508 313h3v1h-3zM514 313h3v1h-3zM520 313h3v1h-3zM526 313h3v1h-3zM532 313h3v1h-3zM538 313h3v1h-3zM544 313h3v1h-3zM550 313h3v1h-3zM556 313h3v1h-3zM562 313h3v1h-3zM568 313h3v1h-3zM574 313h3v1h-3zM580 313h3v1h-3zM586 313h3v1h-3zM592 313h3v1h-3zM598 313h3v1h-3zM604 313h3v1h-3zM610 313h3v1h-3zM616 313h3v1h-3zM622 313h3v1h-3zM628 313h3v1h-3zM634 313h3v1h-3zM640 313h3v1h-3zM646 313h3v1h-3zM652 313h3v1h-3zM658 313h3v1h-3zM664 313h3v1h-3zM670 313h3v1h-3zM676 313h3v1h-3zM682 313h3v1h-3zM688 313h3v1h-3zM694 313h3v1h-3zM700 313h3v1h-3zM706 313h3v1h-3zM712 313h3v1h-3zM718 313h3v1h-3zM724 313h3v1h-3zM730 313h3v1h-3zM736 313h3v1h-3zM742 313h3v1h-3zM748 313h3v1h-3zM754 313h3v1h-3zM760 313h1v1h-1zM40 334h3v1h-3zM46 334h3v1h-3zM52 334h3v1h-3zM58 334h3v1h-3zM64 334h3v1h-3zM70 334h3v1h-3zM76 334h3v1h-3zM82 334h3v1h-3zM88 334h3v1h-3zM94 334h3v1h-3zM100 334h3v1h-3zM106 334h3v1h-3zM112 334h3v1h-3zM118 334h3v1h-3zM124 334h3v1h-3zM130 334h3v1h-3zM136 334h3v1h-3zM142 334h1v1h-1zM144 334h1v1h-1zM148 334h3v1h-3zM154 334h3v1h-3zM160 334h3v1h-3zM166 334h3v1h-3zM172 334h3v1h-3zM178 334h3v1h-3zM184 334h3v1h-3zM190 334h3v1h-3zM196 334h3v1h-3zM202 334h3v1h-3zM208 334h3v1h-3zM214 334h3v1h-3zM220 334h3v1h-3zM226 334h3v1h-3zM232 334h3v1h-3zM238 334h3v1h-3zM244 334h2v1h-2zM250 334h3v1h-3zM256 334h3v1h-3zM262 334h3v1h-3zM268 334h3v1h-3zM274 334h3v1h-3zM280 334h3v1h-3zM286 334h3v1h-3zM292 334h3v1h-3zM298 334h3v1h-3zM304 334h3v1h-3zM310 334h3v1h-3zM316 334h3v1h-3zM322 334h3v1h-3zM328 334h3v1h-3zM334 334h3v1h-3zM340 334h3v1h-3zM346 334h3v1h-3zM352 334h3v1h-3zM358 334h3v1h-3zM364 334h3v1h-3zM370 334h3v1h-3zM376 334h3v1h-3zM382 334h3v1h-3zM388 334h3v1h-3zM394 334h3v1h-3zM400 334h3v1h-3zM406 334h3v1h-3zM412 334h3v1h-3zM418 334h3v1h-3zM424 334h3v1h-3zM430 334h3v1h-3zM436 334h3v1h-3zM442 334h3v1h-3zM448 334h3v1h-3zM454 334h3v1h-3zM460 334h3v1h-3zM466 334h3v1h-3zM472 334h3v1h-3zM478 334h3v1h-3zM484 334h3v1h-3zM490 334h3v1h-3zM496 334h3v1h-3zM502 334h3v1h-3zM508 334h3v1h-3zM514 334h3v1h-3zM520 334h3v1h-3zM526 334h3v1h-3zM532 334h3v1h-3zM538 334h3v1h-3zM544 334h3v1h-3zM550 334h3v1h-3zM556 334h3v1h-3zM562 334h3v1h-3zM568 334h3v1h-3zM574 334h3v1h-3zM580 334h3v1h-3zM586 334h3v1h-3zM592 334h3v1h-3zM598 334h3v1h-3zM604 334h3v1h-3zM610 334h3v1h-3zM616 334h3v1h-3zM622 334h3v1h-3zM628 334h3v1h-3zM634 334h3v1h-3zM640 334h3v1h-3zM646 334h3v1h-3zM652 334h3v1h-3zM658 334h3v1h-3zM664 334h3v1h-3zM670 334h3v1h-3zM676 334h3v1h-3zM682 334h3v1h-3zM688 334h3v1h-3zM694 334h3v1h-3zM700 334h3v1h-3zM706 334h3v1h-3zM712 334h3v1h-3zM718 334h3v1h-3zM724 334h3v1h-3zM730 334h3v1h-3zM736 334h3v1h-3zM742 334h3v1h-3zM748 334h3v1h-3zM754 334h3v1h-3zM760 334h1v1h-1zM40 355h3v1h-3zM46 355h3v1h-3zM52 355h3v1h-3zM58 355h3v1h-3zM64 355h3v1h-3zM70 355h3v1h-3zM76 355h3v1h-3zM82 355h3v1h-3zM88 355h3v1h-3zM94 355h3v1h-3zM100 355h3v1h-3zM106 355h3v1h-3zM112 355h3v1h-3zM118 355h3v1h-3zM124 355h3v1h-3zM130 355h3v1h-3zM136 355h3v1h-3zM142 355h1v1h-1zM144 355h1v1h-1zM148 355h3v1h-3zM154 355h3v1h-3zM160 355h3v1h-3zM166 355h3v1h-3zM172 355h3v1h-3zM178 355h3v1h-3zM184 355h3v1h-3zM190 355h3v1h-3zM196 355h3v1h-3zM202 355h3v1h-3zM208 355h3v1h-3zM214 355h3v1h-3zM220 355h3v1h-3zM226 355h3v1h-3zM232 355h3v1h-3zM238 355h3v1h-3zM244 355h2v1h-2zM250 355h3v1h-3zM256 355h3v1h-3zM262 355h3v1h-3zM268 355h3v1h-3zM274 355h3v1h-3zM280 355h3v1h-3zM286 355h3v1h-3zM292 355h3v1h-3zM298 355h3v1h-3zM304 355h3v1h-3zM310 355h3v1h-3zM316 355h3v1h-3zM322 355h3v1h-3zM328 355h3v1h-3zM334 355h3v1h-3zM340 355h3v1h-3zM346 355h3v1h-3zM352 355h3v1h-3zM358 355h3v1h-3zM364 355h3v1h-3zM370 355h3v1h-3zM376 355h3v1h-3zM382 355h3v1h-3zM388 355h3v1h-3zM394 355h3v1h-3zM400 355h3v1h-3zM406 355h3v1h-3zM412 355h3v1h-3zM418 355h3v1h-3zM424 355h3v1h-3zM430 355h3v1h-3zM436 355h3v1h-3zM442 355h3v1h-3zM448 355h3v1h-3zM454 355h3v1h-3zM460 355h3v1h-3zM466 355h3v1h-3zM472 355h3v1h-3zM478 355h3v1h-3zM484 355h3v1h-3zM490 355h3v1h-3zM496 355h3v1h-3zM502 355h3v1h-3zM508 355h3v1h-3zM514 355h3v1h-3zM520 355h3v1h-3zM526 355h3v1h-3zM532 355h3v1h-3zM538 355h3v1h-3zM544 355h3v1h-3zM550 355h3v1h-3zM556 355h3v1h-3zM562 355h3v1h-3zM568 355h3v1h-3zM574 355h3v1h-3zM580 355h3v1h-3zM586 355h3v1h-3zM592 355h3v1h-3zM598 355h3v1h-3zM604 355h3v1h-3zM610 355h3v1h-3zM616 355h3v1h-3zM622 355h3v1h-3zM628 355h3v1h-3zM634 355h3v1h-3zM640 355h3v1h-3zM646 355h3v1h-3zM652 355h3v1h-3zM658 355h3v1h-3zM664 355h3v1h-3zM670 355h3v1h-3zM676 355h3v1h-3zM682 355h3v1h-3zM688 355h3v1h-3zM694 355h3v1h-3zM700 355h3v1h-3zM706 355h3v1h-3zM712 355h3v1h-3zM718 355h3v1h-3zM724 355h3v1h-3zM730 355h3v1h-3zM736 355h3v1h-3zM742 355h3v1h-3zM748 355h3v1h-3zM754 355h3v1h-3zM760 355h1v1h-1zM40 376h3v1h-3zM46 376h3v1h-3zM52 376h3v1h-3zM58 376h3v1h-3zM64 376h3v1h-3zM70 376h3v1h-3zM76 376h3v1h-3zM82 376h3v1h-3zM88 376h3v1h-3zM94 376h3v1h-3zM100 376h3v1h-3zM106 376h3v1h-3zM112 376h3v1h-3zM118 376h3v1h-3zM124 376h3v1h-3zM130 376h3v1h-3zM136 376h3v1h-3zM142 376h1v1h-1zM144 376h1v1h-1zM148 376h3v1h-3zM154 376h3v1h-3zM160 376h3v1h-3zM166 376h3v1h-3zM172 376h3v1h-3zM178 376h3v1h-3zM184 376h3v1h-3zM190 376h3v1h-3zM196 376h3v1h-3zM202 376h3v1h-3zM208 376h3v1h-3zM214 376h3v1h-3zM220 376h3v1h-3zM226 376h3v1h-3zM232 376h3v1h-3zM238 376h3v1h-3zM244 376h2v1h-2zM250 376h3v1h-3zM256 376h3v1h-3zM262 376h3v1h-3zM268 376h3v1h-3zM274 376h3v1h-3zM280 376h3v1h-3zM286 376h3v1h-3zM292 376h3v1h-3zM298 376h3v1h-3zM304 376h3v1h-3zM310 376h3v1h-3zM316 376h3v1h-3zM322 376h3v1h-3zM328 376h3v1h-3zM334 376h3v1h-3zM340 376h3v1h-3zM346 376h3v1h-3zM352 376h3v1h-3zM358 376h3v1h-3zM364 376h3v1h-3zM370 376h3v1h-3zM376 376h3v1h-3zM382 376h3v1h-3zM388 376h3v1h-3zM394 376h3v1h-3zM400 376h3v1h-3zM406 376h3v1h-3zM412 376h3v1h-3zM418 376h3v1h-3zM424 376h3v1h-3zM430 376h3v1h-3zM436 376h3v1h-3zM442 376h3v1h-3zM448 376h3v1h-3zM454 376h3v1h-3zM460 376h3v1h-3zM466 376h3v1h-3zM472 376h3v1h-3zM478 376h3v1h-3zM484 376h3v1h-3zM490 376h3v1h-3zM496 376h3v1h-3zM502 376h3v1h-3zM508 376h3v1h-3zM514 376h3v1h-3zM520 376h3v1h-3zM526 376h3v1h-3zM532 376h3v1h-3zM538 376h3v1h-3zM544 376h3v1h-3zM550 376h3v1h-3zM556 376h3v1h-3zM562 376h3v1h-3zM568 376h3v1h-3zM574 376h3v1h-3zM580 376h3v1h-3zM586 376h3v1h-3zM592 376h3v1h-3zM598 376h3v1h-3zM604 376h3v1h-3zM610 376h3v1h-3zM616 376h3v1h-3zM622 376h3v1h-3zM628 376h3v1h-3zM634 376h3v1h-3zM640 376h3v1h-3zM646 376h3v1h-3zM652 376h3v1h-3zM658 376h3v1h-3zM664 376h3v1h-3zM670 376h3v1h-3zM676 376h3v1h-3zM682 376h3v1h-3zM688 376h3v1h-3zM694 376h3v1h-3zM700 376h3v1h-3zM706 376h3v1h-3zM712 376h3v1h-3zM718 376h3v1h-3zM724 376h3v1h-3zM730 376h3v1h-3zM736 376h3v1h-3zM742 376h3v1h-3zM748 376h3v1h-3zM754 376h3v1h-3zM760 376h1v1h-1zM40 397h3v1h-3zM46 397h3v1h-3zM52 397h3v1h-3zM58 397h3v1h-3zM64 397h3v1h-3zM70 397h3v1h-3zM76 397h3v1h-3zM82 397h3v1h-3zM88 397h3v1h-3zM94 397h3v1h-3zM100 397h3v1h-3zM106 397h3v1h-3zM112 397h3v1h-3zM118 397h3v1h-3zM124 397h3v1h-3zM130 397h3v1h-3zM136 397h3v1h-3zM142 397h1v1h-1zM144 397h1v1h-1zM148 397h3v1h-3zM154 397h3v1h-3zM160 397h3v1h-3zM166 397h3v1h-3zM172 397h3v1h-3zM178 397h3v1h-3zM184 397h3v1h-3zM190 397h3v1h-3zM196 397h3v1h-3zM202 397h3v1h-3zM208 397h3v1h-3zM214 397h3v1h-3zM220 397h3v1h-3zM226 397h3v1h-3zM232 397h3v1h-3zM238 397h3v1h-3zM244 397h2v1h-2zM250 397h3v1h-3zM256 397h3v1h-3zM262 397h3v1h-3zM268 397h3v1h-3zM274 397h3v1h-3zM280 397h3v1h-3zM286 397h3v1h-3zM292 397h3v1h-3zM298 397h3v1h-3zM304 397h3v1h-3zM310 397h3v1h-3zM316 397h3v1h-3zM322 397h3v1h-3zM328 397h3v1h-3zM334 397h3v1h-3zM340 397h3v1h-3zM346 397h3v1h-3zM352 397h3v1h-3zM358 397h3v1h-3zM364 397h3v1h-3zM370 397h3v1h-3zM376 397h3v1h-3zM382 397h3v1h-3zM388 397h3v1h-3zM394 397h3v1h-3zM400 397h3v1h-3zM406 397h3v1h-3zM412 397h3v1h-3zM418 397h3v1h-3zM424 397h3v1h-3zM430 397h3v1h-3zM436 397h3v1h-3zM442 397h3v1h-3zM448 397h3v1h-3zM454 397h3v1h-3zM460 397h3v1h-3zM466 397h3v1h-3zM472 397h3v1h-3zM478 397h3v1h-3zM484 397h3v1h-3zM490 397h3v1h-3zM496 397h3v1h-3zM502 397h3v1h-3zM508 397h3v1h-3zM514 397h3v1h-3zM520 397h3v1h-3zM526 397h3v1h-3zM532 397h3v1h-3zM538 397h3v1h-3zM544 397h3v1h-3zM550 397h3v1h-3zM556 397h3v1h-3zM562 397h3v1h-3zM568 397h3v1h-3zM574 397h3v1h-3zM580 397h3v1h-3zM586 397h3v1h-3zM592 397h3v1h-3zM598 397h3v1h-3zM604 397h3v1h-3zM610 397h3v1h-3zM616 397h3v1h-3zM622 397h3v1h-3zM628 397h3v1h-3zM634 397h3v1h-3zM640 397h3v1h-3zM646 397h3v1h-3zM652 397h3v1h-3zM658 397h3v1h-3zM664 397h3v1h-3zM670 397h3v1h-3zM676 397h3v1h-3zM682 397h3v1h-3zM688 397h3v1h-3zM694 397h3v1h-3zM700 397h3v1h-3zM706 397h3v1h-3zM712 397h3v1h-3zM718 397h3v1h-3zM724 397h3v1h-3zM730 397h3v1h-3zM736 397h3v1h-3zM742 397h3v1h-3zM748 397h3v1h-3zM754 397h3v1h-3zM760 397h1v1h-1zM40 418h3v1h-3zM46 418h3v1h-3zM52 418h3v1h-3zM58 418h3v1h-3zM64 418h3v1h-3zM70 418h3v1h-3zM76 418h3v1h-3zM82 418h3v1h-3zM88 418h3v1h-3zM94 418h3v1h-3zM100 418h3v1h-3zM106 418h3v1h-3zM112 418h3v1h-3zM118 418h3v1h-3zM124 418h3v1h-3zM130 418h3v1h-3zM136 418h3v1h-3zM142 418h1v1h-1zM144 418h1v1h-1zM148 418h3v1h-3zM154 418h3v1h-3zM160 418h3v1h-3zM166 418h3v1h-3zM172 418h3v1h-3zM178 418h3v1h-3zM184 418h3v1h-3zM190 418h3v1h-3zM196 418h3v1h-3zM202 418h3v1h-3zM208 418h3v1h-3zM214 418h3v1h-3zM220 418h3v1h-3zM226 418h3v1h-3zM232 418h3v1h-3zM238 418h3v1h-3zM244 418h2v1h-2zM250 418h3v1h-3zM256 418h3v1h-3zM262 418h3v1h-3zM268 418h3v1h-3zM274 418h3v1h-3zM280 418h3v1h-3zM286 418h3v1h-3zM292 418h3v1h-3zM298 418h3v1h-3zM304 418h3v1h-3zM310 418h3v1h-3zM316 418h3v1h-3zM322 418h3v1h-3zM328 418h3v1h-3zM334 418h3v1h-3zM340 418h3v1h-3zM346 418h3v1h-3zM352 418h3v1h-3zM358 418h3v1h-3zM364 418h3v1h-3zM370 418h3v1h-3zM376 418h3v1h-3zM382 418h3v1h-3zM388 418h3v1h-3zM394 418h3v1h-3zM400 418h3v1h-3zM406 418h3v1h-3zM412 418h3v1h-3zM418 418h3v1h-3zM424 418h3v1h-3zM430 418h3v1h-3zM436 418h3v1h-3zM442 418h3v1h-3zM448 418h3v1h-3zM454 418h3v1h-3zM460 418h3v1h-3zM466 418h3v1h-3zM472 418h3v1h-3zM478 418h3v1h-3zM484 418h3v1h-3zM490 418h3v1h-3zM496 418h3v1h-3zM502 418h3v1h-3zM508 418h3v1h-3zM514 418h3v1h-3zM520 418h3v1h-3zM526 418h3v1h-3zM532 418h3v1h-3zM538 418h3v1h-3zM544 418h3v1h-3zM550 418h3v1h-3zM556 418h3v1h-3zM562 418h3v1h-3zM568 418h3v1h-3zM574 418h3v1h-3zM580 418h3v1h-3zM586 418h3v1h-3zM592 418h3v1h-3zM598 418h3v1h-3zM604 418h3v1h-3zM610 418h3v1h-3zM616 418h3v1h-3zM622 418h3v1h-3zM628 418h3v1h-3zM634 418h3v1h-3zM640 418h3v1h-3zM646 418h3v1h-3zM652 418h3v1h-3zM658 418h3v1h-3zM664 418h3v1h-3zM670 418h3v1h-3zM676 418h3v1h-3zM682 418h3v1h-3zM688 418h3v1h-3zM694 418h3v1h-3zM700 418h3v1h-3zM706 418h3v1h-3zM712 418h3v1h-3zM718 418h3v1h-3zM724 418h3v1h-3zM730 418h3v1h-3zM736 418h3v1h-3zM742 418h3v1h-3zM748 418h3v1h-3zM754 418h3v1h-3zM760 418h1v1h-1zM40 439h3v1h-3zM46 439h3v1h-3zM52 439h3v1h-3zM58 439h3v1h-3zM64 439h3v1h-3zM70 439h3v1h-3zM76 439h3v1h-3zM82 439h3v1h-3zM88 439h3v1h-3zM94 439h3v1h-3zM100 439h3v1h-3zM106 439h3v1h-3zM112 439h3v1h-3zM118 439h3v1h-3zM124 439h3v1h-3zM130 439h3v1h-3zM136 439h3v1h-3zM142 439h1v1h-1zM144 439h1v1h-1zM148 439h3v1h-3zM154 439h3v1h-3zM160 439h3v1h-3zM166 439h3v1h-3zM172 439h3v1h-3zM178 439h3v1h-3zM184 439h3v1h-3zM190 439h3v1h-3zM196 439h3v1h-3zM202 439h3v1h-3zM208 439h3v1h-3zM214 439h3v1h-3zM220 439h3v1h-3zM226 439h3v1h-3zM232 439h3v1h-3zM238 439h3v1h-3zM244 439h2v1h-2zM250 439h3v1h-3zM256 439h3v1h-3zM262 439h3v1h-3zM268 439h3v1h-3zM274 439h3v1h-3zM280 439h3v1h-3zM286 439h3v1h-3zM292 439h3v1h-3zM298 439h3v1h-3zM304 439h3v1h-3zM310 439h3v1h-3zM316 439h3v1h-3zM322 439h3v1h-3zM328 439h3v1h-3zM334 439h3v1h-3zM340 439h3v1h-3zM346 439h3v1h-3zM352 439h3v1h-3zM358 439h3v1h-3zM364 439h3v1h-3zM370 439h3v1h-3zM376 439h3v1h-3zM382 439h3v1h-3zM388 439h3v1h-3zM394 439h3v1h-3zM400 439h3v1h-3zM406 439h3v1h-3zM412 439h3v1h-3zM418 439h3v1h-3zM424 439h3v1h-3zM430 439h3v1h-3zM436 439h3v1h-3zM442 439h3v1h-3zM448 439h3v1h-3zM454 439h3v1h-3zM460 439h3v1h-3zM466 439h3v1h-3zM472 439h3v1h-3zM478 439h3v1h-3zM484 439h3v1h-3zM490 439h3v1h-3zM496 439h3v1h-3zM502 439h3v1h-3zM508 439h3v1h-3zM514 439h3v1h-3zM520 439h3v1h-3zM526 439h3v1h-3zM532 439h3v1h-3zM538 439h3v1h-3zM544 439h3v1h-3zM550 439h3v1h-3zM556 439h3v1h-3zM562 439h3v1h-3zM568 439h3v1h-3zM574 439h3v1h-3zM580 439h3v1h-3zM586 439h3v1h-3zM592 439h3v1h-3zM598 439h3v1h-3zM604 439h3v1h-3zM610 439h3v1h-3zM616 439h3v1h-3zM622 439h3v1h-3zM628 439h3v1h-3zM634 439h3v1h-3zM640 439h3v1h-3zM646 439h3v1h-3zM652 439h3v1h-3zM658 439h3v1h-3zM664 439h3v1h-3zM670 439h3v1h-3zM676 439h3v1h-3zM682 439h3v1h-3zM688 439h3v1h-3zM694 439h3v1h-3zM700 439h3v1h-3zM706 439h3v1h-3zM712 439h3v1h-3zM718 439h3v1h-3zM724 439h3v1h-3zM730 439h3v1h-3zM736 439h3v1h-3zM742 439h3v1h-3zM748 439h3v1h-3zM754 439h3v1h-3zM760 439h1v1h-1z" fill="#000"/>
<rect x="40" y="40" width="721" height="1" fill="#000"/>
<rect x="40" y="460" width="721" height="1" fill="#000"/>
<rect x="40" y="40" width="1" height="423" fill="#000"/>
<rect x="760" y="40" width="1" height="421" fill="#000"/>
<path d="M70 452h1v3h-1zM71 448h1v4h-1zM72 444h1v4h-1zM73 440h1v4h-1zM74 435h1v5h-1zM75 427h1v8h-1zM76 419h1v8h-1zM77 412h1v7h-1zM78 404h1v8h-1zM79 392h1v12h-1zM80 375h1v17h-1zM81 359h1v16h-1zM82 342h1v17h-1zM83 323h1v19h-1zM84 302h1v21h-1zM85 280h1v22h-1zM86 259h1v21h-1zM87 248h1v11h-1zM93 249h1v2h-1zM96 249h1v5h-1zM97 241h1v8h-1zM98 233h1v8h-1zM99 225h1v8h-1zM100 221h1v12h-1zM101 233h1v23h-1zM102 256h1v22h-1zM103 278h1v23h-1zM104 301h1v15h-1zM105 316h1v8h-1zM106 324h1v8h-1zM107 332h1v8h-1zM108 340h1v8h-1zM109 348h1v4h-1zM113 349h1v6h-1zM114 355h1v12h-1zM115 367h1v11h-1zM116 378h1v12h-1zM117 390h1v8h-1zM118 398h1v4h-1zM119 402h1v4h-1zM120 406h1v4h-1zM121 410h1v5h-1zM122 415h1v7h-1zM123 422h1v7h-1zM124 429h1v7h-1zM125 436h1v7h-1zM126 443h1v5h-1zM127 448h1v3h-1zM128 451h1v3h-1zM129 454h1v3h-1zM130 457h1v2h-1zM173 454h1v3h-1zM174 449h1v5h-1zM175 445h1v4h-1zM176 440h1v5h-1zM177 428h1v12h-1zM178 409h1v19h-1zM179 389h1v20h-1zM180 370h1v19h-1zM181 359h1v11h-1zM182 357h1v2h-1zM183 355h1v2h-1zM184 353h1v2h-1zM185 351h1v2h-1zM186 337h1v14h-1zM187 309h1v28h-1zM188 282h1v27h-1zM189 254h1v28h-1zM190 240h1v14h-1zM191 244h1v7h-1zM192 251h1v7h-1zM193 258h1v7h-1zM194 265h1v4h-1zM195 265h1v2h-1zM196 262h1v3h-1zM197 260h1v2h-1zM198 258h1v2h-1zM199 248h1v10h-1zM200 231h1v17h-1zM201 214h1v17h-1zM202 197h1v17h-1zM203 188h1v9h-1zM204 194h1v12h-1zM205 206h1v11h-1zM206 217h1v12h-1zM207 229h1v20h-1zM208 249h1v29h-1zM209 278h1v29h-1zM210 307h1v29h-1zM211 336h1v18h-1zM212 354h1v8h-1zM213 362h1v8h-1zM214 370h1v7h-1zM215 377h1v8h-1zM216 385h1v7h-1zM217 392h1v8h-1zM218 400h1v7h-1zM219 407h1v8h-1zM220 415h1v7h-1zM221 422h1v7h-1zM222 429h1v6h-1zM223 435h1v7h-1zM224 442h1v5h-1zM225 447h1v2h-1zM226 449h1v3h-1zM227 452h1v2h-1zM228 454h1v2h-1zM229 456h1v2h-1zM276 455h1v2h-1zM277 453h1v2h-1zM278 451h1v2h-1zM279 449h1v2h-1zM280 446h1v3h-1zM281 441h1v5h-1zM282 436h1v5h-1zM283 431h1v5h-1zM284 427h1v4h-1zM285 425h1v2h-1zM286 422h1v3h-1zM287 420h1v2h-1zM288 418h1v2h-1zM289 412h1v6h-1zM290 402h1v10h-1zM291 392h1v10h-1zM292 382h1v10h-1zM293 377h1v5h-1zM294 379h1v2h-1zM295 381h1v2h-1zM296 383h1v2h-1zM297 385h1v4h-1zM298 389h1v4h-1zM299 393h1v4h-1zM300 397h1v4h-1zM301 401h1v3h-1zM303 405h1v2h-1zM307 410h1v2h-1zM308 412h1v2h-1zM309 414h1v2h-1zM310 415h1v2h-1zM311 413h1v2h-1zM312 410h1v3h-1zM313 408h1v2h-1zM314 406h1v2h-1zM316 408h1v2h-1zM319 412h1v2h-1zM320 414h1v4h-1zM321 418h1v3h-1zM322 421h1v4h-1zM374 454h1v2h-1zM375 450h1v4h-1zM376 446h1v4h-1zM377 443h1v3h-1zM378 439h1v4h-1zM379 434h1v5h-1zM380 426h1v8h-1zM381 419h1v7h-1zM382 411h1v8h-1zM383 403h1v8h-1zM384 394h1v9h-1zM385 384h1v10h-1zM386 375h1v9h-1zM387 367h1v8h-1zM388 359h1v8h-1zM389 352h1v7h-1zM390 344h1v8h-1zM391 337h1v7h-1zM392 331h1v6h-1zM393 325h1v6h-1zM394 319h1v6h-1zM395 313h1v6h-1zM396 303h1v10h-1zM397 289h1v14h-1zM398 274h1v15h-1zM399 260h1v14h-1zM400 252h1v8h-1zM401 258h1v10h-1zM402 268h1v10h-1zM403 278h1v10h-1zM404 288h1v8h-1zM405 296h1v4h-1zM406 300h1v5h-1zM407 305h1v4h-1zM408 309h1v4h-1zM409 313h1v5h-1zM410 318h1v6h-1zM411 324h1v6h-1zM412 330h1v6h-1zM413 336h1v5h-1zM414 341h1v5h-1zM415 346h1v6h-1zM416 352h1v5h-1zM417 357h1v9h-1zM418 366h1v14h-1zM419 380h1v14h-1zM420 394h1v14h-1zM421 408h1v9h-1zM422 417h1v6h-1zM423 423h1v6h-1zM424 429h1v6h-1zM425 435h1v6h-1zM426 441h1v4h-1zM427 445h1v3h-1zM428 448h1v2h-1zM429 450h1v3h-1zM430 453h1v2h-1zM477 452h1v3h-1zM478 447h1v5h-1zM479 441h1v6h-1zM480 436h1v5h-1zM481 431h1v5h-1zM482 425h1v6h-1zM483 419h1v6h-1zM484 414h1v5h-1zM485 408h1v6h-1zM486 403h1v5h-1zM487 399h1v4h-1zM488 395h1v4h-1zM489 391h1v4h-1zM490 387h1v4h-1zM491 384h1v3h-1zM492 381h1v3h-1zM493 378h1v3h-1zM494 376h1v2h-1zM495 374h1v2h-1zM498 370h1v2h-1zM499 369h1v5h-1zM500 374h1v9h-1zM501 383h1v9h-1zM502 392h1v9h-1zM503 401h1v5h-1zM507 405h1v4h-1zM508 398h1v7h-1zM509 391h1v7h-1zM510 384h1v7h-1zM511 380h1v4h-1zM512 382h1v2h-1zM513 384h1v3h-1zM514 387h1v3h-1zM515 390h1v2h-1zM516 392h1v5h-1zM517 397h1v8h-1zM518 405h1v8h-1zM519 413h1v8h-1zM520 421h1v5h-1zM521 426h1v2h-1zM522 428h1v2h-1zM523 430h1v2h-1zM525 433h1v2h-1zM528 437h1v2h-1zM529 439h1v2h-1zM530 441h1v4h-1zM531 445h1v4h-1zM532 449h1v4h-1zM533 453h1v2h-1zM577 455h1v2h-1zM579 452h1v2h-1zM580 444h1v8h-1zM581 430h1v14h-1zM582 415h1v15h-1zM583 401h1v14h-1zM584 385h1v16h-1zM585 367h1v18h-1zM586 349h1v18h-1zM587 331h1v18h-1zM588 313h1v18h-1zM589 301h1v12h-1zM590 293h1v8h-1zM591 285h1v8h-1zM592 277h1v8h-1zM593 265h1v12h-1zM594 248h1v17h-1zM595 230h1v18h-1zM596 213h1v17h-1zM597 204h1v11h-1zM598 215h1v21h-1zM599 236h1v21h-1zM600 257h1v21h-1zM601 278h1v11h-1zM602 261h1v18h-1zM603 243h1v18h-1zM604 225h1v18h-1zM605 207h1v18h-1zM606 198h1v22h-1zM607 220h1v44h-1zM608 264h1v44h-1zM609 308h1v44h-1zM610 352h1v22h-1zM611 362h1v8h-1zM612 354h1v8h-1zM613 346h1v8h-1zM614 340h1v6h-1zM615 335h1v5h-1zM616 330h1v5h-1zM617 325h1v5h-1zM618 320h1v5h-1zM619 317h1v12h-1zM620 329h1v22h-1zM621 351h1v22h-1zM622 373h1v22h-1zM623 395h1v12h-1zM624 391h1v10h-1zM625 381h1v10h-1zM626 371h1v10h-1zM627 366h1v6h-1zM628 372h1v11h-1zM629 383h1v12h-1zM630 395h1v11h-1zM631 406h1v9h-1zM632 415h1v8h-1zM633 423h1v7h-1zM634 430h1v7h-1zM635 437h1v8h-1zM636 445h1v5h-1zM637 450h1v2h-1zM638 452h1v3h-1zM639 455h1v2h-1zM640 457h1v2h-1zM679 457h1v2h-1zM680 454h1v3h-1zM681 452h1v2h-1zM682 449h1v3h-1zM683 439h1v10h-1zM684 422h1v17h-1zM685 404h1v18h-1zM686 387h1v17h-1zM687 367h1v20h-1zM688 345h1v22h-1zM689 323h1v22h-1zM690 301h1v22h-1zM691 280h1v21h-1zM692 262h1v18h-1zM693 244h1v18h-1zM694 226h1v18h-1zM695 208h1v18h-1zM696 198h1v10h-1zM697 195h1v3h-1zM698 191h1v4h-1zM699 188h1v3h-1zM700 178h1v10h-1zM701 160h1v18h-1zM702 143h1v17h-1zM703 125h1v18h-1zM704 116h1v9h-1zM705 121h1v8h-1zM706 129h1v9h-1zM707 138h1v8h-1zM708 146h1v8h-1zM709 154h1v5h-1zM710 151h1v5h-1zM711 147h1v4h-1zM712 142h1v5h-1zM713 136h1v6h-1zM714 130h1v6h-1zM715 123h1v7h-1zM716 117h1v6h-1zM717 113h1v4h-1zM718 116h1v5h-1zM719 121h1v5h-1zM720 126h1v5h-1zM721 131h1v11h-1zM722 142h1v17h-1zM723 159h1v17h-1zM724 176h1v16h-1zM725 192h1v17h-1zM726 209h1v25h-1zM727 234h1v32h-1zM728 266h1v32h-1zM729 298h1v32h-1zM730 330h1v23h-1zM731 353h1v16h-1zM732 369h1v15h-1zM733 384h1v16h-1zM734 400h1v12h-1zM735 412h1v8h-1zM736 420h1v8h-1zM737 428h1v8h-1zM738 436h1v8h-1zM739 444h1v6h-1zM740 450h1v2h-1zM741 452h1v3h-1zM742 455h1v2h-1zM743 457h1v2h-1zM40 457h27v1h-27zM133 457h39v1h-39zM230 457h44v1h-44zM340 457h29v1h-29zM371 457h2v1h-2zM434 457h40v1h-40zM537 457h40v1h-40zM643 457h9v1h-9zM67 456h2v1h-2zM172 456h1v1h-1zM274 456h2v1h-2zM373 456h1v1h-1zM433 456h1v1h-1zM474 456h2v1h-2zM536 456h1v1h-1zM69 455h1v1h-1zM431 455h2v1h-2zM476 455h1v1h-1zM534 455h2v1h-2zM88 248h2v1h-2zM92 248h1v1h-1zM90 247h2v1h-2zM94 251h1v1h-1zM95 252h1v1h-1zM110 351h1v1h-1zM111 350h2v1h-2zM131 458h2v1h-2zM369 458h2v1h-2zM641 458h2v1h-2zM652 458h27v1h-27zM744 458h12v1h-12zM302 404h1v1h-1zM304 407h1v1h-1zM315 407h1v1h-1zM506 407h1v1h-1zM305 408h1v1h-1zM306 409h1v1h-1zM317 410h1v1h-1zM318 411h1v1h-1zM323 425h1v1h-1zM496 373h1v1h-1zM497 372h1v1h-1zM504 406h2v1h-2zM524 432h1v1h-1zM526 435h1v1h-1zM527 436h1v1h-1zM578 454h1v1h-1z" fill="#000"/>
</g>
<text class="t" x="341.63" y="14" textLength="53.98" lengthAdjust="spacingAndGlyphs">Radiación</text>
<text class="t" x="399.97" y="14" textLength="34.69" lengthAdjust="spacingAndGlyphs">global</text>
<text class="t" x="436.88" y="14" textLength="43.90" lengthAdjust="spacingAndGlyphs">[W/m²]</text>
<text x="24.58" y="445" textLength="12.08" lengthAdjust="spacingAndGlyphs">80</text>
<text x="19.01" y="424" textLength="17.51" lengthAdjust="spacingAndGlyphs">160</text>
<text x="18.62" y="403" textLength="18.17" lengthAdjust="spacingAndGlyphs">240</text>
<text x="18.57" y="382" textLength="17.86" lengthAdjust="spacingAndGlyphs">320</text>
<text x="18.95" y="361" textLength="17.58" lengthAdjust="spacingAndGlyphs">400</text>
<text x="18.95" y="340" textLength="17.58" lengthAdjust="spacingAndGlyphs">480</text>
<text x="18.47" y="319" textLength="18.34" lengthAdjust="spacingAndGlyphs">560</text>
<text x="18.63" y="298" textLength="17.80" lengthAdjust="spacingAndGlyphs">640</text>
<text x="18.60" y="277" textLength="17.85" lengthAdjust="spacingAndGlyphs">720</text>
<text x="18.58" y="256" textLength="17.86" lengthAdjust="spacingAndGlyphs">800</text>
<text x="18.58" y="235" textLength="17.86" lengthAdjust="spacingAndGlyphs">880</text>
<text x="18.55" y="214" textLength="18.27" lengthAdjust="spacingAndGlyphs">960</text>
<text x="10.05" y="193" textLength="26.30" lengthAdjust="spacingAndGlyphs">1.040</text>
<text x="10.05" y="172" textLength="26.30" lengthAdjust="spacingAndGlyphs">1.120</text>
<text x="10.05" y="151" textLength="26.30" lengthAdjust="spacingAndGlyphs">1.200</text>
<text x="10.05" y="130" textLength="26.30" lengthAdjust="spacingAndGlyphs">1.280</text>
<text x="10.05" y="109" textLength="26.30" lengthAdjust="spacingAndGlyphs">1.360</text>
<text x="10.05" y="88" textLength="26.30" lengthAdjust="spacingAndGlyphs">1.440</text>
<text x="10.05" y="67" textLength="26.30" lengthAdjust="spacingAndGlyphs">1.520</text>
<text x="30.53" y="466" textLength="6.05" lengthAdjust="spacingAndGlyphs">0</text>
<text x="9.58" y="50" textLength="27.00" lengthAdjust="spacingAndGlyphs">W/m²</text>
<text x="26.12" y="479" textLength="26.51" lengthAdjust="spacingAndGlyphs">lunes</text>
<text x="127.26" y="479" textLength="33.30" lengthAdjust="spacingAndGlyphs">martes</text>
<text x="223.19" y="479" textLength="43.87" lengthAdjust="spacingAndGlyphs">miércoles</text>
<text x="333.46" y="479" textLength="31.94" lengthAdjust="spacingAndGlyphs">jueves</text>
<text x="433.66" y="479" textLength="35.04" lengthAdjust="spacingAndGlyphs">viernes</text>
<text x="536.26" y="479" textLength="34.71" lengthAdjust="spacingAndGlyphs">sábado</text>
<text x="636.30" y="479" textLength="40.11" lengthAdjust="spacingAndGlyphs">domingo</text>
<text x="16.31" y="494" textLength="44.25" lengthAdjust="spacingAndGlyphs">09/05/11</text>
<text x="120.41" y="494" textLength="43.57" lengthAdjust="spacingAndGlyphs">10/05/11</text>
<text x="222.90" y="494" textLength="43.87" lengthAdjust="spacingAndGlyphs">11/05/11</text>
<text x="325.80" y="494" textLength="43.75" lengthAdjust="spacingAndGlyphs">12/05/11</text>
<text x="428.97" y="494" textLength="43.61" lengthAdjust="spacingAndGlyphs">13/05/11</text>
<text x="531.41" y="494" textLength="43.57" lengthAdjust="spacingAndGlyphs">14/05/11</text>
<text x="633.92" y="494" textLength="44.04" lengthAdjust="spacingAndGlyphs">15/05/11</text>
</svg>
</body></html>
